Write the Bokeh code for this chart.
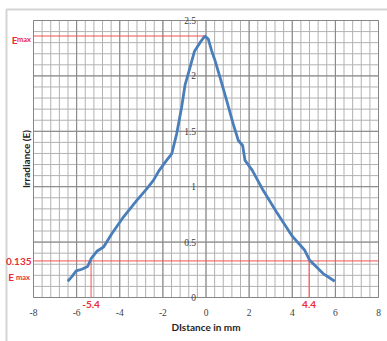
from math import pi
import numpy as np
from bokeh.plotting import figure
from bokeh.models import Label, LabelSet, ColumnDataSource, Range1d
from bokeh.embed import file_html
from bokeh.resources import INLINE

# ---- data ----
distance_mm = [-6.41, -6.23, -6.02, -5.76, -5.49, -5.33, -5.06, -4.75, -4.37, -3.83,
               -3.21, -2.75, -2.44, -2.16, -1.83, -1.59, -1.36, -1.13, -0.97, -0.74,
               -0.54, -0.28, -0.05, 0.11, 0.26, 0.42, 0.65, 0.96, 1.26, 1.50,
               1.70, 1.81, 2.14, 2.65, 3.27, 3.97, 4.58, 4.81, 5.43, 5.97]
irradiance = [0.147, 0.186, 0.240, 0.255, 0.280, 0.350, 0.417, 0.456, 0.576, 0.726,
              0.876, 0.980, 1.057, 1.150, 1.237, 1.297, 1.477, 1.717, 1.920, 2.077,
              2.220, 2.300, 2.360, 2.330, 2.228, 2.138, 1.987, 1.777, 1.567, 1.417,
              1.372, 1.237, 1.150, 0.967, 0.771, 0.561, 0.426, 0.336, 0.216, 0.147]
x_ticks = [-8, -6, -4, -2, 0, 2, 4, 6, 8]
x_tick_labels = ["-8", "-6", "-4", "-2", "0", "2", "4", "6", "8"]
y_ticks = [0, 0.5, 1, 1.5, 2, 2.5]
y_tick_labels = ["0", "0.5", "1", "1.5", "2", "2.5"]
x_minor_step = 0.4
y_minor_step = 0.1
e_max = 2.36
e_max_x = -0.05
e_threshold = 0.33
x_left_cross = -5.33
x_right_cross = 4.78
left_cross_label = "-5.4"
right_cross_label = "4.4"
threshold_label = "0.135"
x_title = "DIstance in mm"
y_title = "Irradiance (E)"

x_min, x_max = x_ticks[0], x_ticks[-1]
y_min, y_max = y_ticks[0], y_ticks[-1]

# ---- layout (pixels of the 387x341 canvas) ----
W, H = 387, 341
FL, FR, FT, FB = 33, 378, 20, 297          # plot-area edges
ppx = (FR - FL) / (x_max - x_min)
ppy = (FB - FT) / (y_max - y_min)
x_start = x_min - FL / ppx
x_end = x_max + (W - FR) / ppx
y_start = y_min - (H - FB) / ppy
y_end = y_max + FT / ppy

def xp(px):
    return x_start + px / ppx

def yp(py):
    return y_end - py / ppy

RED = "#ea2b36"
RED_LINE = "#f25050"
BLUE = "#4a7ebb"
FONT = "Lato"
GRID_MINOR = "#b2b2b2"
GRID_MAJOR = "#868686"

p = figure(width=W, height=H, x_range=Range1d(x_start, x_end), y_range=Range1d(y_start, y_end),
           output_backend="svg", toolbar_location=None,
           x_axis_location=None, y_axis_location=None,
           min_border_left=0, min_border_right=0, min_border_top=0, min_border_bottom=0)
p.grid.visible = False
p.outline_line_color = None

# chart outer border (light gray, top and left visible)
p.line([xp(6), xp(6), xp(W)], [yp(H), yp(9), yp(9)], line_color="#d4d4d4", line_width=2)

# grid
xs_minor = np.arange(x_min, x_max + 1e-9, x_minor_step)
ys_minor = np.arange(y_min, y_max + 1e-9, y_minor_step)
p.segment(x0=xs_minor, y0=y_min, x1=xs_minor, y1=y_max, line_color=GRID_MINOR, line_width=1)
p.segment(x0=x_min, y0=ys_minor, x1=x_max, y1=ys_minor, line_color=GRID_MINOR, line_width=1)
p.segment(x0=x_ticks, y0=y_min, x1=x_ticks, y1=y_max, line_color=GRID_MAJOR, line_width=1)
p.segment(x0=x_min, y0=y_ticks, x1=x_max, y1=y_ticks, line_color=GRID_MAJOR, line_width=1)

# red guide lines
p.line([x_min, e_max_x], [e_max, e_max], line_color=RED_LINE, line_width=1)
p.line([x_min, x_max], [e_threshold, e_threshold], line_color=RED_LINE, line_width=1)
p.line([x_left_cross, x_left_cross], [y_min, e_threshold], line_color=RED_LINE, line_width=1)
p.line([x_right_cross, x_right_cross], [y_min, e_threshold], line_color=RED_LINE, line_width=1)

# curve
p.line(distance_mm, irradiance, line_color=BLUE, line_width=2.8)

# tick labels
ysrc = ColumnDataSource(dict(x=[0] * len(y_ticks), y=y_ticks, t=y_tick_labels))
p.add_layout(LabelSet(x="x", y="y", text="t", source=ysrc, x_offset=-10,
                      text_align="right", text_baseline="middle",
                      text_font=FONT, text_font_size="9.5px", text_color="#404040"))
xsrc = ColumnDataSource(dict(x=x_ticks, y=[yp(311.5)] * len(x_ticks), t=x_tick_labels))
p.add_layout(LabelSet(x="x", y="y", text="t", source=xsrc,
                      text_align="center", text_baseline="middle",
                      text_font=FONT, text_font_size="9.5px", text_color="#404040"))

# axis titles
p.add_layout(Label(x=0, y=yp(326.5), text=x_title, text_align="center", text_baseline="middle",
                   text_font=FONT, text_font_size="10px", text_font_style="bold", text_color="#1f1f1f"))
p.add_layout(Label(x=xp(25), y=(y_min + y_max) / 2, text=y_title, angle=pi / 2,
                   text_align="center", text_baseline="middle", text_font=FONT,
                   text_font_size="10px", text_font_style="bold", text_color="#1f1f1f"))

def red(x, y, text, size="10px", align="right", baseline="middle"):
    p.add_layout(Label(x=x, y=y, text=text, text_align=align, text_baseline=baseline,
                       text_font=FONT, text_font_size=size, text_font_style="bold",
                       text_color=RED))

# E_max labels
red(xp(30.5), yp(39), "max", size="7.5px", baseline="alphabetic")
red(xp(17), yp(39), "E", baseline="alphabetic")
red(xp(31), yp(261), threshold_label)
red(xp(29.5), yp(276.5), "max", size="7.5px", baseline="alphabetic")
red(xp(13.5), yp(276.5), "E", baseline="alphabetic")

# crossing labels
red(x_left_cross, yp(303.5), left_cross_label, align="center")
red(x_right_cross, yp(303.5), right_cross_label, align="center")

open("out.html", "w").write(file_html(p, INLINE))
